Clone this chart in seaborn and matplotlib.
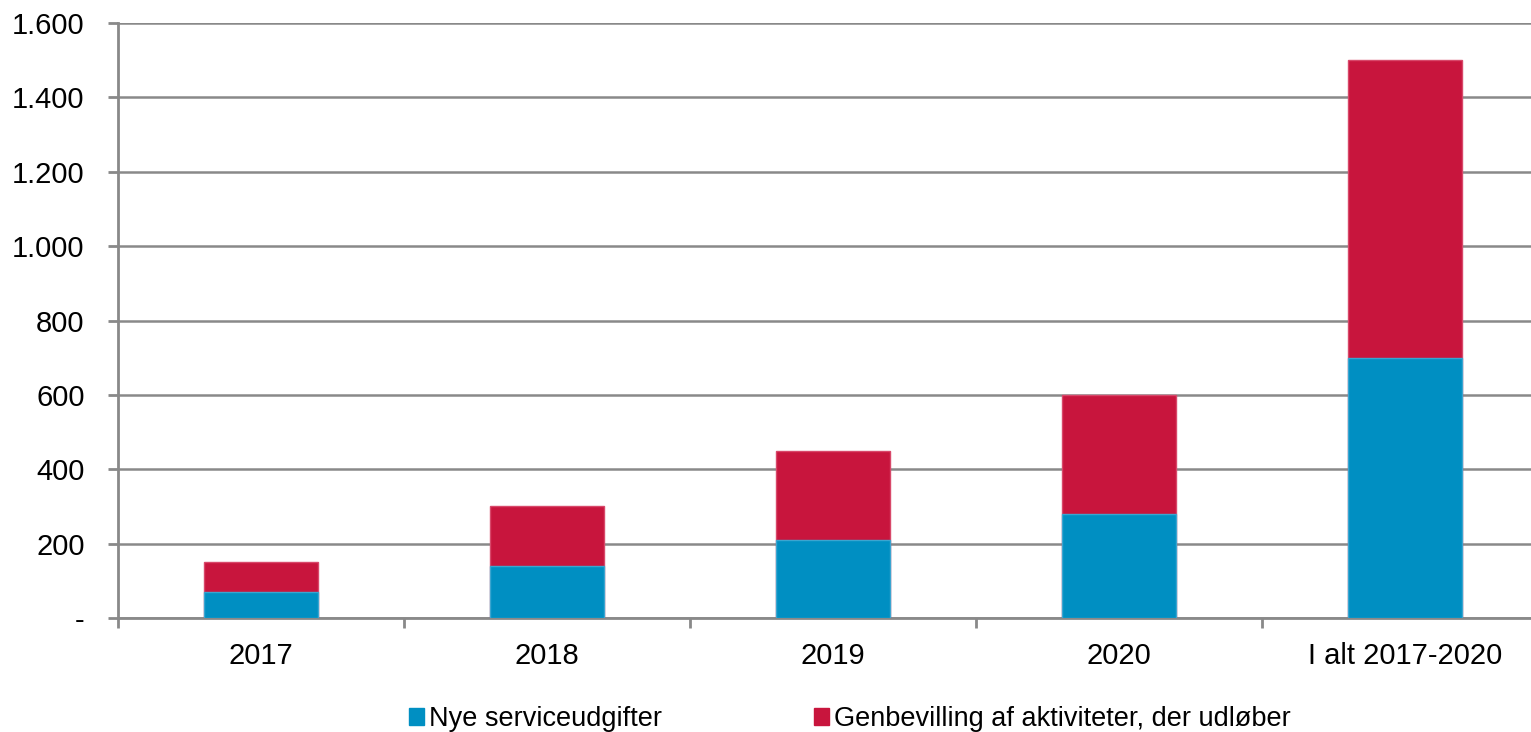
import numpy as np
import pandas as pd
import matplotlib
matplotlib.use('Agg')
import matplotlib.pyplot as plt
import matplotlib.ticker as ticker
import seaborn as sns

categories = ['2017', '2018', '2019', '2020', 'I alt 2017-2020']
nye = [70, 140, 210, 280, 700]
genbevilling = [80, 160, 240, 320, 800]
series_names = ['Nye serviceudgifter', 'Genbevilling af aktiviteter, der udløber']
blue = '#008FC2'
red = '#C8153D'

df = pd.DataFrame({'cat': categories, 'nye': nye, 'gen': genbevilling})
df['total'] = df['nye'] + df['gen']

sns.set_style('white')
plt.rcParams['font.family'] = ['Liberation Sans', 'DejaVu Sans']
plt.rcParams.update({'text.color': 'black', 'xtick.color': 'black', 'ytick.color': 'black',
                     'axes.labelcolor': 'black'})
font = 21

fig = plt.figure(figsize=(15.31, 7.32), dpi=100)
ax = fig.add_axes([118/1531, 1-618/732, 1430/1531, 595/732])

sns.barplot(data=df, x='cat', y='total', color=red, width=0.4, saturation=1,
            edgecolor='#D8486A', linewidth=1, ax=ax, zorder=3)
sns.barplot(data=df, x='cat', y='nye', color=blue, width=0.4, saturation=1,
            edgecolor='#3AA5D0', linewidth=1, ax=ax, zorder=4)

ax.set_xlim(-0.5, 4.5)
ax.set_ylim(0, 1600)
ax.set_yticks(np.arange(0, 1601, 200))
ax.yaxis.set_major_formatter(ticker.FuncFormatter(
    lambda v, p: '-' if v == 0 else '{:,.0f}'.format(v).replace(',', '.')))
ax.grid(axis='y', color='#898989', linewidth=1.8, zorder=0)
ax.set_axisbelow(True)
for s in ['top', 'right']:
    ax.spines[s].set_visible(False)
for s in ['left', 'bottom']:
    ax.spines[s].set_color('#898989')
    ax.spines[s].set_linewidth(2)

# category ticks at the boundaries, labels in the middle
ax.set_xticks(np.arange(-0.5, 5, 1))
ax.set_xticklabels([])
ax.set_xticks(np.arange(0, 5), minor=True)
ax.set_xticklabels(categories, minor=True, fontsize=font)
ax.tick_params(axis='x', which='major', bottom=True, direction='out', length=7, width=2,
               color='#898989')
ax.tick_params(axis='x', which='minor', bottom=True, length=0, pad=17, labelcolor='black')
ax.tick_params(axis='y', left=True, direction='out', length=7, width=2, color='#898989',
               labelsize=font, pad=17, labelcolor='black')
ax.set_xlabel('')
ax.set_ylabel('')

handles = [plt.Rectangle((0, 0), 1, 1, color=blue), plt.Rectangle((0, 0), 1, 1, color=red)]
fig.legend(handles, series_names, loc='center', bbox_to_anchor=(850/1531, 1-719/732),
           ncol=2, frameon=False, fontsize=19.5, handlelength=0.55, handleheight=0.55,
           handletextpad=0.2, columnspacing=5.6, borderaxespad=0, borderpad=0)

plt.savefig('out.png', dpi=100)
